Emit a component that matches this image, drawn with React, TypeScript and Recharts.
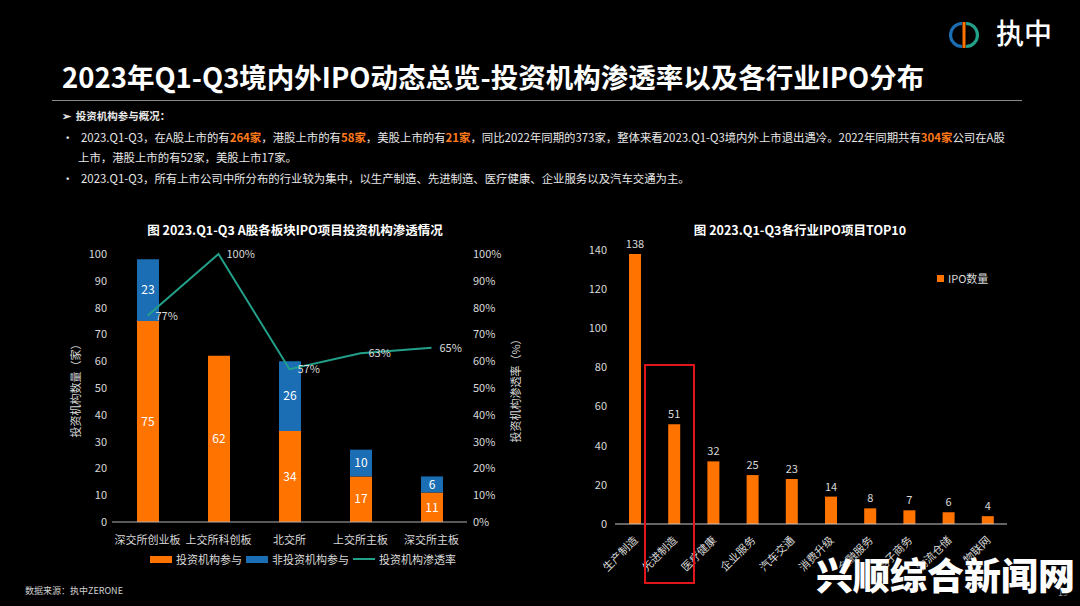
import { Bar, BarChart, ComposedChart, LabelList, Line, XAxis, YAxis } from "recharts"

const FONT = '"Noto Sans CJK SC", "Noto Sans", sans-serif'
const ORANGE = "#ff7300"
const BLUE = "#1b6db4"
const TEAL = "#23a08a"
const TICK = "#d9d9d9"

// left chart: A-share boards
const boards = ["深交所创业板", "上交所科创板", "北交所", "上交所主板", "深交所主板"]
const investorJoined = [75, 62, 34, 17, 11]
const nonInvestorJoined = [23, 0, 26, 10, 6]
const penetration = [0.77, 1.0, 0.57, 0.63, 0.65]
const countTicks = [0, 10, 20, 30, 40, 50, 60, 70, 80, 90, 100]
const rateTicks = [0, 0.1, 0.2, 0.3, 0.4, 0.5, 0.6, 0.7, 0.8, 0.9, 1]

// right chart: top 10 industries
const industries = ["生产制造", "先进制造", "医疗健康", "企业服务", "汽车交通", "消费升级", "金融服务", "电子商务", "物流仓储", "物联网"]
const ipoCounts = [138, 51, 32, 25, 23, 14, 8, 7, 6, 4]
const ipoTicks = [0, 20, 40, 60, 80, 100, 120, 140]

const boardData = boards.map((board, i) => ({
  board,
  investor: investorJoined[i],
  nonInvestor: nonInvestorJoined[i],
  rate: penetration[i],
}))

const industryData = industries.map((name, i) => ({ name, count: ipoCounts[i] }))

const pct = (v: any) => `${Math.round(Number(v) * 100)}%`

// vertical axis title drawn from the axis viewBox
const axisTitle = (text: string, dx: number) => (props: any) => {
  const vb = props.viewBox || { x: 0, y: 0, width: 0, height: 0 }
  const cx = vb.x + dx
  const cy = vb.y + vb.height / 2
  return (
    <text
      x={cx}
      y={cy}
      transform={`rotate(-90 ${cx} ${cy})`}
      textAnchor="middle"
      dominantBaseline="central"
      fill={TICK}
      fontSize={11}
    >
      {text}
    </text>
  )
}

const AngledTick = ({ x, y, payload }: any) => {
  const tx = x + 4
  const ty = y + 9
  return (
    <text x={tx} y={ty} transform={`rotate(-45 ${tx} ${ty})`} textAnchor="end" fill={TICK} fontSize={11}>
      {payload.value}
    </text>
  )
}

function Logo() {
  return (
    <svg width={30} height={30} style={{ position: "absolute", left: 949, top: 20 }}>
      <path d="M 13 3.5 A 11.5 11.5 0 0 0 13 26.5" fill="none" stroke={BLUE} strokeWidth={3.2} />
      <path d="M 17 3.5 A 11.5 11.5 0 0 1 17 26.5" fill="none" stroke={TEAL} strokeWidth={3.2} />
      <rect x={13.5} y={2} width={3} height={26} fill={ORANGE} />
    </svg>
  )
}

const hl = { color: "#ff7a1a", fontWeight: 700 }

export default function App() {
  return (
    <div
      style={{
        position: "absolute",
        left: 0,
        top: 0,
        width: 1080,
        height: 606,
        background: "#000",
        overflow: "hidden",
        fontFamily: FONT,
        color: "#fff",
      }}
    >
      <Logo />
      <div style={{ position: "absolute", left: 996, top: 12, fontSize: 28, fontWeight: 500, lineHeight: "40px" }}>执中</div>

      <div style={{ position: "absolute", left: 62, top: 56, fontSize: 27.5, fontWeight: 700, lineHeight: "40px", whiteSpace: "nowrap" }}>
        2023年Q1-Q3境内外IPO动态总览-投资机构渗透率以及各行业IPO分布
      </div>
      <div style={{ position: "absolute", left: 52, top: 100, width: 970, height: 1, background: "#8a8a8a" }} />

      <div style={{ position: "absolute", left: 62, top: 107, fontSize: 11.4, lineHeight: "18px", whiteSpace: "nowrap", color: "#e8e8e8" }}>
        <div style={{ fontWeight: 700, fontSize: 10.5 }}>➢&nbsp;&nbsp;投资机构参与概况：</div>
        <div style={{ marginTop: 3 }}>
          •&nbsp;&nbsp;&nbsp;2023.Q1-Q3，在A股上市的有<span style={hl}>264家</span>，港股上市的有<span style={hl}>58家</span>，美股上市的有<span style={hl}>21家</span>，同比2022年同期的373家，整体来看2023.Q1-Q3境内外上市退出遇冷。2022年同期共有<span style={hl}>304家</span>公司在A股
        </div>
        <div style={{ marginTop: 2, paddingLeft: 16 }}>上市，港股上市的有52家，美股上市17家。</div>
        <div style={{ marginTop: 3 }}>•&nbsp;&nbsp;&nbsp;2023.Q1-Q3，所有上市公司中所分布的行业较为集中，以生产制造、先进制造、医疗健康、企业服务以及汽车交通为主。</div>
      </div>

      {/* left chart */}
      <div style={{ position: "absolute", left: 0, top: 220, width: 590, textAlign: "center", fontSize: 12.5, fontWeight: 700, lineHeight: "20px" }}>
        图 2023.Q1-Q3 A股各板块IPO项目投资机构渗透情况
      </div>
      <div style={{ position: "absolute", left: 0, top: 240 }}>
        <ComposedChart width={560} height={340} data={boardData} margin={{ top: 14, right: 43, bottom: 36, left: 60 }} barSize={22}>
          <XAxis
            dataKey="board"
            yAxisId="left"
            interval={0}
            tickLine={false}
            axisLine={{ stroke: "#b0b0b0" }}
            tick={{ fill: TICK, fontSize: 11 }}
            tickMargin={8}
            height={22}
          />
          <YAxis
            yAxisId="left"
            domain={[0, 100]}
            ticks={countTicks}
            axisLine={false}
            tickLine={false}
            tickSize={0}
            tickMargin={5}
            width={52}
            tick={{ fill: TICK, fontSize: 11 }}
            label={{ content: axisTitle("投资机构数量（家）", 15) }}
          />
          <YAxis
            yAxisId="right"
            orientation="right"
            domain={[0, 1]}
            ticks={rateTicks}
            tickFormatter={pct}
            axisLine={false}
            tickLine={false}
            tickSize={0}
            tickMargin={6}
            width={50}
            tick={{ fill: TICK, fontSize: 11 }}
            label={{ content: axisTitle("投资机构渗透率（%）", 48) }}
          />
          <Bar yAxisId="left" dataKey="investor" stackId="a" fill={ORANGE} isAnimationActive={false}>
            <LabelList dataKey="investor" position="center" fill="#fff" fontSize={12} />
          </Bar>
          <Bar yAxisId="left" dataKey="nonInvestor" stackId="a" fill={BLUE} isAnimationActive={false}>
            <LabelList dataKey="nonInvestor" position="center" fill="#fff" fontSize={12} formatter={(v: any) => (v ? v : "")} />
          </Bar>
          <Line yAxisId="right" type="linear" dataKey="rate" stroke={TEAL} strokeWidth={2} dot={false} isAnimationActive={false}>
            <LabelList dataKey="rate" position="right" offset={8} fill={TICK} fontSize={11} formatter={pct} />
          </Line>
        </ComposedChart>
      </div>
      <div style={{ position: "absolute", left: 150, top: 551, display: "flex", alignItems: "center", fontSize: 11, color: TICK, lineHeight: "16px", whiteSpace: "nowrap" }}>
        <span style={{ width: 22, height: 7, background: ORANGE, marginRight: 4 }} />
        <span style={{ marginRight: 4 }}>投资机构参与</span>
        <span style={{ width: 22, height: 7, background: BLUE, marginRight: 4 }} />
        <span style={{ marginRight: 4 }}>非投资机构参与</span>
        <span style={{ width: 22, height: 2, background: TEAL, marginRight: 4 }} />
        <span>投资机构渗透率</span>
      </div>

      {/* right chart */}
      <div style={{ position: "absolute", left: 600, top: 220, width: 400, textAlign: "center", fontSize: 12.5, fontWeight: 700, lineHeight: "20px" }}>
        图 2023.Q1-Q3各行业IPO项目TOP10
      </div>
      <div style={{ position: "absolute", left: 560, top: 220 }}>
        <BarChart width={480} height={386} data={industryData} margin={{ top: 30, right: 33, bottom: 22, left: 10 }} barSize={12}>
          <XAxis
            dataKey="name"
            interval={0}
            tickLine={false}
            axisLine={{ stroke: "#c8c8c8" }}
            tick={<AngledTick />}
            height={60}
          />
          <YAxis
            domain={[0, 140]}
            ticks={ipoTicks}
            axisLine={false}
            tickLine={false}
            tickSize={0}
            tickMargin={8}
            width={45}
            tick={{ fill: TICK, fontSize: 11 }}
          />
          <Bar dataKey="count" fill={ORANGE} isAnimationActive={false}>
            <LabelList dataKey="count" position="top" offset={6} fill={TICK} fontSize={11} />
          </Bar>
        </BarChart>
      </div>
      <div style={{ position: "absolute", left: 937, top: 270, display: "flex", alignItems: "center", fontSize: 11, color: TICK, lineHeight: "16px" }}>
        <span style={{ width: 7, height: 7, background: ORANGE, marginRight: 4 }} />
        <span>IPO数量</span>
      </div>
      <div style={{ position: "absolute", left: 644, top: 364, width: 47, height: 216, border: "2px solid #e0161b" }} />

      <div style={{ position: "absolute", left: 25, top: 584, fontSize: 9, color: "#d0d0d0", lineHeight: "14px" }}>数据来源：执中ZERONE</div>
      <div style={{ position: "absolute", left: 1058, top: 586, fontSize: 9, color: "#999", lineHeight: "14px" }}>19</div>
      <div
        style={{
          position: "absolute",
          left: 816,
          top: 549,
          fontSize: 37,
          fontWeight: 900,
          lineHeight: "50px",
          whiteSpace: "nowrap",
          color: "#fff",
          textShadow: "0 0 3px #000",
        }}
      >
        兴顺综合新闻网
      </div>
    </div>
  )
}
